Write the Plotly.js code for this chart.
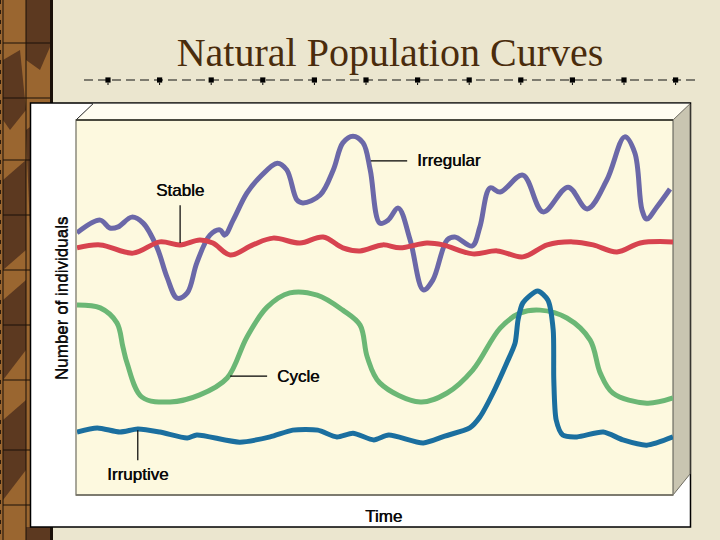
<!DOCTYPE html>
<html><head><meta charset="utf-8">
<script src="https://cdn.plot.ly/plotly-3.0.1.min.js"></script>
<style>html,body{margin:0;padding:0;background:#ebe6cf;}#chart{width:720px;height:540px;}</style>
</head><body><div id="chart"></div>
<script>
// ---- data (time in arbitrary units 0-100, number of individuals 0-100) ----
const irregularTime = [0,3.9,5.5,6.9,9.2,11.1,13.4,15.1,16.8,18.5,20.1,22.3,24.0,24.8,26.2,28.5,30.7,33.6,35.2,36.9,37.9,40.8,43.0,44.6,46.3,48.0,49.2,50.8,52.2,53.9,55.9,58.1,59.7,62.1,63.4,66.3,67.6,69.3,71.0,74.8,78.2,82.4,85.6,88.9,91.9,93.6,94.8,95.6,97.3,99.5];
const irregularValues = [69.9,73.3,71.2,71.5,74.1,72.5,66.1,58.1,52.5,53.9,61.9,69.3,70.7,69.3,73.3,80.5,84.8,88.5,86.7,78.7,77.9,80.0,86.7,93.9,95.7,93.9,86.7,72.5,73.3,76.5,68.0,54.7,57.3,68.0,68.8,66.4,71.5,81.9,80.8,85.3,75.5,82.1,76.3,84.0,95.5,91.2,76.0,73.6,76.8,81.6];

const stableTime = [0,3.9,9.4,13.9,17.3,20.6,22.8,25.7,29.5,32.9,37.4,41.3,44.6,47.5,51.3,54.2,58.7,61.4,66.4,70.5,74.8,78.9,83.2,86.6,90.6,94.5,100];
const stableValues = [65.9,66.7,64.5,67.5,66.7,68.0,67.2,64.0,66.7,68.5,67.2,68.8,65.9,65.1,66.7,65.9,67.2,66.7,64.3,65.1,63.5,66.7,67.5,66.7,64.8,67.2,67.5];

const cycleTime = [0,3.9,6.7,7.7,8.4,10.9,15.6,20.6,25.2,28.5,31.9,35.7,40.3,44.6,47.5,48.7,50.8,57.6,62.1,66.4,71.0,74.3,77.7,82.2,86.1,87.8,89.9,95.6,100];
const cycleValues = [50.7,49.9,45.9,39.5,35.2,26.1,24.8,26.7,31.2,42.1,50.1,53.9,53.3,49.3,45.3,36.8,29.9,24.8,27.2,33.3,44.5,48.5,49.3,47.2,41.3,32.5,27.2,24.5,25.9];

const irruptiveTime = [0,3.4,7.2,10.2,13.9,18.5,20.1,27.3,32.4,36.2,40.4,43.6,46.3,49.8,52.3,58.1,61.7,65.9,67.6,69.8,72.1,73.5,74.0,74.8,77.3,79.0,79.9,80.0,80.4,81.5,83.9,88.3,91.6,95.6,100];
const irruptiveValues = [16.8,17.9,16.8,17.6,16.8,15.2,16.0,14.1,15.5,17.3,17.3,15.5,16.5,14.7,16.0,13.9,15.7,17.9,20.8,27.2,35.2,40.5,46.7,51.2,54.4,52.0,44.0,30.7,20.0,16.0,15.5,16.8,14.7,13.3,15.5];

const seriesNames = ["Irregular","Stable","Cycle","Irruptive"];
const titleText = "Natural Population Curves";
const xTitle = "Time";
const yTitle = "Number of individuals";

// ---- layout geometry helpers (figure pixels -> paper fractions) ----
const L = 77, R = 673, T = 120, B = 495;
const X = px => (px - L) / (R - L);
const Y = py => (B - py) / (B - T);
const shapes = [];
function rect(x0,y0,x1,y1,fill,lc,lw){shapes.push({type:'rect',xref:'paper',yref:'paper',x0:X(x0),x1:X(x1),y0:Y(y1),y1:Y(y0),fillcolor:fill,line:{color:lc||'rgba(0,0,0,0)',width:lw||0},layer:'below'});}
function poly(pts,fill,lc,lw){let d='M'+pts.map(p=>X(p[0])+','+Y(p[1])).join(' L')+' Z';shapes.push({type:'path',xref:'paper',yref:'paper',path:d,fillcolor:fill,line:{color:lc||'rgba(0,0,0,0)',width:lw||0},layer:'below'});}
function seg(x0,y0,x1,y1,c,w,dash){shapes.push({type:'line',xref:'paper',yref:'paper',x0:X(x0),x1:X(x1),y0:Y(y0),y1:Y(y1),line:{color:c,width:w,dash:dash||'solid'},layer:'below'});}

// wood strip on the left
rect(0,0,53,540,'#9a6630');
const dark = '#5c3920';
poly([[26,0],[53,0],[53,40],[40,70],[26,60]],dark);
poly([[3,60],[20,50],[26,110],[10,130],[3,120]],dark);
poly([[26,130],[53,110],[53,200],[30,230]],dark);
poly([[3,180],[26,160],[26,250],[3,270]],dark);
poly([[3,300],[26,280],[26,350],[3,380]],dark);
poly([[3,420],[26,400],[26,470],[3,500]],dark);
poly([[26,527],[53,527],[53,540],[26,540]],dark);
[3,26].forEach(x=>seg(x,0,x,540,'#1a1008',1));
seg(51.5,0,51.5,540,'#1a1008',3);
[43,98,160,215,270,325,380,450,505].forEach(y=>seg(3,y,51,y,'#1a1008',1));
seg(0.5,0,0.5,540,'#2a1a0c',1,'4px,6px');

// white panel
rect(30.5,103,690.5,527,'#ffffff','#000000',1.5);
// top bevel
poly([[76,120],[93,103.8],[690,103.8],[673,120]],'#fffdf1');
seg(76,120,93,103.8,'#222',1);
// right side face
poly([[673,120],[690,103.8],[690,474],[673,495]],'#c9c5b1','#6e6b60',1);
// front face
rect(76,120,673,495,'#fdf9df','#8c8a7e',1.5);
seg(76,120,673,120,'#2b2b22',1.5);
seg(76,495,673,495,'#6f6d62',1.5);

// dashed rule with square studs under the title
seg(84,80,695,80,'#111',1.2,'9px,5px');
for(let i=0;i<12;i++){const cx=108+i*51.6;rect(cx-2.6,77.4,cx+2.6,82.6,'#000');seg(cx,82.6,cx,85,'#000',1);}

// ---- traces ----
const colors = ['#6b68a8','#d7434f','#6bb775','#1b6f9f'];
const xs = [irregularTime, stableTime, cycleTime, irruptiveTime];
const ys = [irregularValues, stableValues, cycleValues, irruptiveValues];
const traces = seriesNames.map((n,i)=>({
  type:'scatter', mode:'lines', name:n, x:xs[i], y:ys[i],
  line:{color:colors[i], width:5, shape:'spline', smoothing: i===3?0.7:1},
  hoverinfo:'skip', showlegend:false, cliponaxis:true
}));

// ---- labels with leader lines (data coordinates) ----
const labelFont = {family:'Liberation Sans, Arial, sans-serif', size:17, color:'#0a0a0a', shadow:'0.5px 0 0 #0a0a0a'};
const annotations = [
  {x:56.7, y:89.1, text:seriesNames[0], xanchor:'left', yanchor:'middle'},
  {x:17.3, y:81.3, text:seriesNames[1], xanchor:'center', yanchor:'middle'},
  {x:33.2, y:31.7, text:seriesNames[2], xanchor:'left', yanchor:'middle'},
  {x:10.1, y:5.6, text:seriesNames[3], xanchor:'center', yanchor:'middle'}
].map(a=>Object.assign({xref:'x',yref:'y',showarrow:false,font:labelFont},a));
// axis titles, placed where the reference draws them
annotations.push({xref:'paper',yref:'paper',x:X(383),y:Y(516),text:xTitle,showarrow:false,xanchor:'center',yanchor:'middle',font:labelFont});
annotations.push({xref:'paper',yref:'paper',x:X(61),y:Y(299),text:yTitle,showarrow:false,textangle:-90,xanchor:'center',yanchor:'middle',font:Object.assign({},labelFont,{shadow:'0 0.5px 0 #0a0a0a'})});
const leaders = [[49.3,89.1,55.4,89.1],[17.3,77.3,17.3,67.2],[25.7,31.7,31.9,31.7],[10.2,17.3,10.2,9.3]];
leaders.forEach(l=>shapes.push({type:'line',xref:'x',yref:'y',x0:l[0],y0:l[1],x1:l[2],y1:l[3],line:{color:'#000',width:1.2}}));

const layout = {
  width:720, height:540,
  margin:{l:L, r:720-R, t:T, b:540-B},
  paper_bgcolor:'#ebe6cf', plot_bgcolor:'rgba(0,0,0,0)',
  title:{text:titleText, xref:'container', yref:'container', x:390/720, xanchor:'center', y:1-52/540, yanchor:'middle',
         font:{family:'Liberation Serif, Times New Roman, serif', size:40, color:'#4a2c0c'}},
  xaxis:{range:[0,100], showgrid:false, zeroline:false, showticklabels:false, ticks:'', showline:false, fixedrange:true},
  yaxis:{range:[0,100], showgrid:false, zeroline:false, showticklabels:false, ticks:'', showline:false, fixedrange:true},
  shapes:shapes, annotations:annotations, showlegend:false
};
Plotly.newPlot('chart', traces, layout, {displayModeBar:false, staticPlot:true});
</script></body></html>
